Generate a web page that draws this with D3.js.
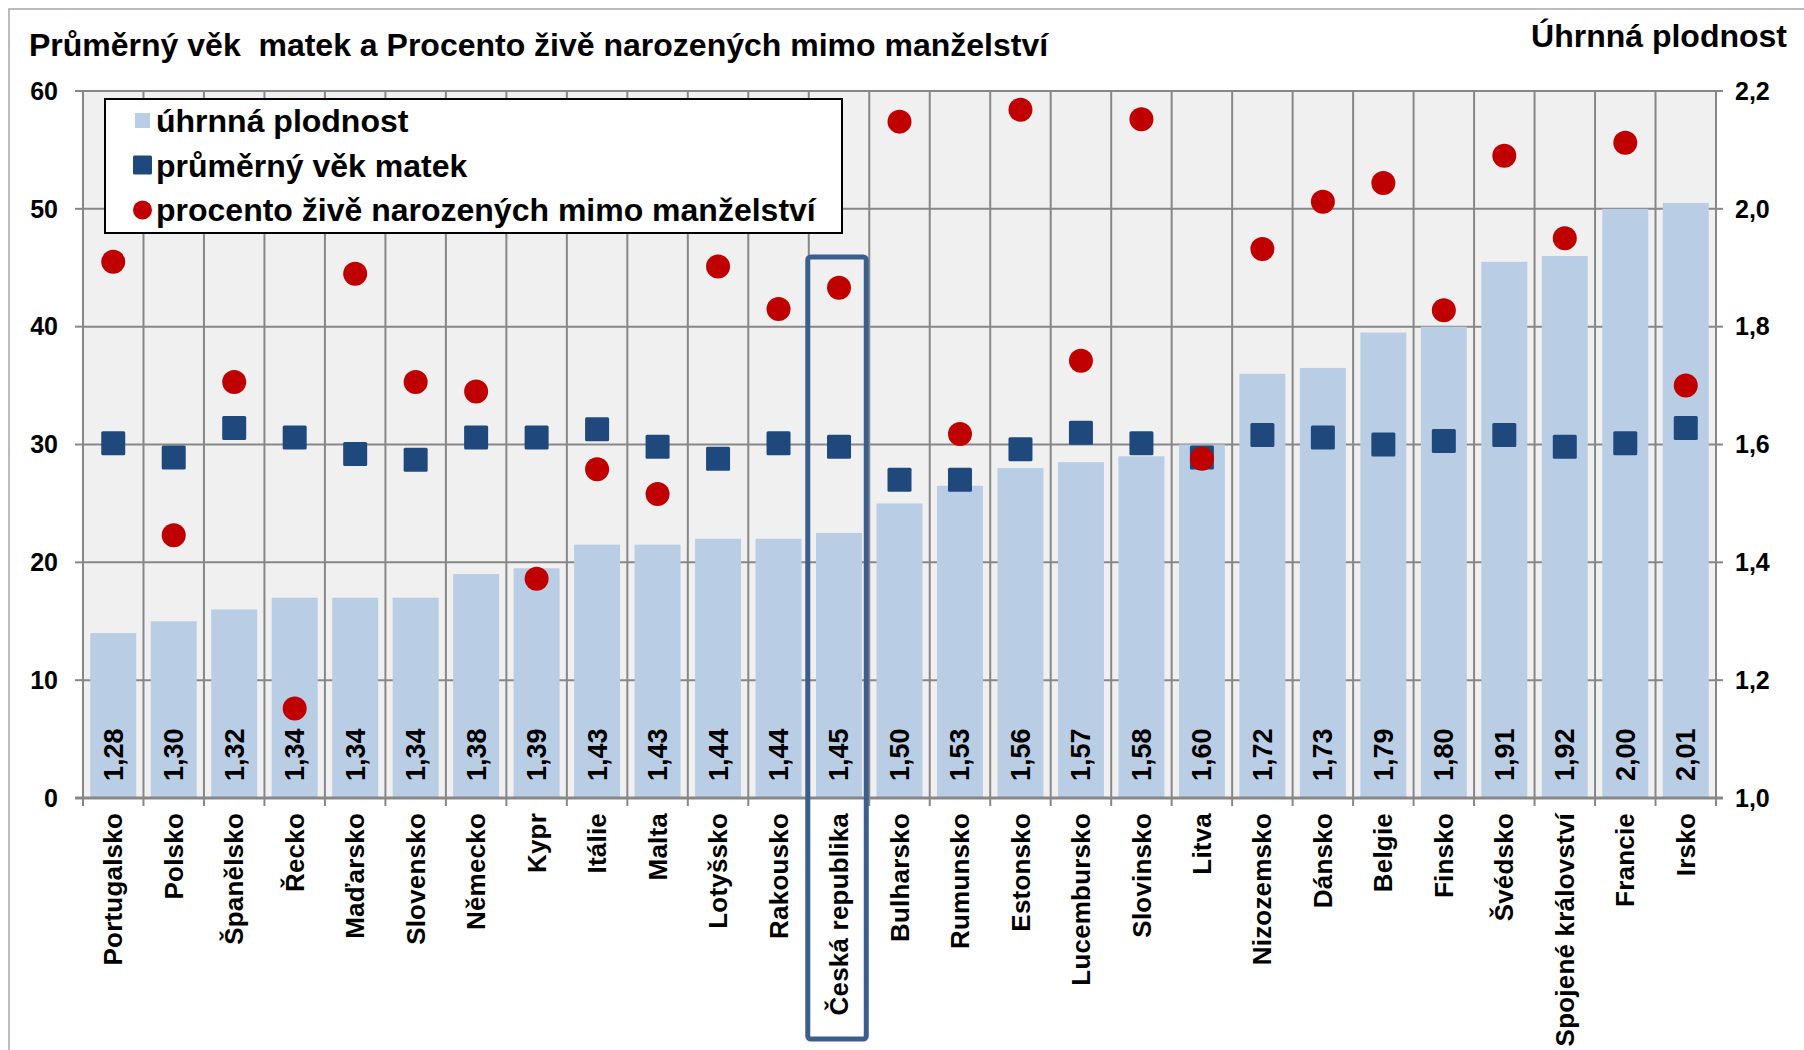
<!DOCTYPE html>
<html>
<head>
<meta charset="utf-8">
<script src="https://cdn.jsdelivr.net/npm/d3@7"></script>
<style>
  body { margin: 0; background: #fff; }
  svg text { font-family: "Liberation Sans", Arial, sans-serif; font-weight: bold; fill: #000; }
</style>
</head>
<body>
<svg id="chart"></svg>
<script>
const countries = ["Portugalsko", "Polsko", "Španělsko", "Řecko", "Maďarsko", "Slovensko",
  "Německo", "Kypr", "Itálie", "Malta", "Lotyšsko", "Rakousko", "Česká republika",
  "Bulharsko", "Rumunsko", "Estonsko", "Lucembursko", "Slovinsko", "Litva", "Nizozemsko",
  "Dánsko", "Belgie", "Finsko", "Švédsko", "Spojené království", "Francie", "Irsko"];

// úhrnná plodnost (right axis)
const fertility = [1.28, 1.30, 1.32, 1.34, 1.34, 1.34, 1.38, 1.39, 1.43, 1.43, 1.44, 1.44, 1.45,
  1.50, 1.53, 1.56, 1.57, 1.58, 1.60, 1.72, 1.73, 1.79, 1.80, 1.91, 1.92, 2.00, 2.01];

// průměrný věk matek (left axis)
const motherAge = [30.1, 28.9, 31.4, 30.6, 29.2, 28.7, 30.6, 30.6, 31.3, 29.8, 28.8, 30.1, 29.8,
  27.0, 27.0, 29.6, 31.0, 30.1, 28.9, 30.8, 30.6, 30.0, 30.3, 30.8, 29.8, 30.1, 31.4];

// procento živě narozených mimo manželství (left axis)
const outsideMarriage = [45.5, 22.3, 35.3, 7.6, 44.5, 35.3, 34.5, 18.6, 27.9, 25.8, 45.1, 41.5, 43.3,
  57.4, 30.9, 58.4, 37.1, 57.6, 28.8, 46.6, 50.6, 52.2, 41.4, 54.5, 47.5, 55.6, 35.0];

const leftTicks = [0, 10, 20, 30, 40, 50, 60];
const rightTicks = [1.0, 1.2, 1.4, 1.6, 1.8, 2.0, 2.2];
const highlight = "Česká republika";

const legendItems = [
  { label: "úhrnná plodnost", type: "bar" },
  { label: "průměrný věk matek", type: "square" },
  { label: "procento živě narozených mimo manželství", type: "circle" }
];

const dimensions = {
  width: 1804,
  height: 1050,
  margin: { top: 91, right: 88, bottom: 252, left: 83 }
};
dimensions.boundedWidth = dimensions.width - dimensions.margin.left - dimensions.margin.right;
dimensions.boundedHeight = dimensions.height - dimensions.margin.top - dimensions.margin.bottom;

const colors = {
  bar: "#b9cde5",
  square: "#1f497d",
  circle: "#c00000",
  grid: "#878787",
  plotBg: "#f0f0f0",
  box: "#3b5e8c"
};

const wrapper = d3.select("#chart")
  .attr("width", dimensions.width)
  .attr("height", dimensions.height);

// outer chart frame (only top/left edge are inside the picture)
wrapper.append("rect")
  .attr("x", 9).attr("y", 9)
  .attr("width", dimensions.width).attr("height", dimensions.height)
  .attr("fill", "none").attr("stroke", "#a6a6a6").attr("stroke-width", 1.5);

const bounds = wrapper.append("g")
  .attr("transform", `translate(${dimensions.margin.left},${dimensions.margin.top})`);

// scales
const xScale = d3.scaleBand()
  .domain(countries)
  .range([0, dimensions.boundedWidth])
  .paddingInner(0.24)
  .paddingOuter(0.12);
const step = xScale.step();
const bandStart = d => xScale(d) - step * 0.12;
const center = d => xScale(d) + xScale.bandwidth() / 2;

const yLeft = d3.scaleLinear().domain([0, 60]).range([dimensions.boundedHeight, 0]);
const yRight = d3.scaleLinear().domain([1.0, 2.2]).range([dimensions.boundedHeight, 0]);

// plot background
bounds.append("rect")
  .attr("width", dimensions.boundedWidth)
  .attr("height", dimensions.boundedHeight)
  .attr("fill", colors.plotBg);

// gridlines
bounds.append("g").selectAll("line")
  .data(leftTicks.slice(1))
  .join("line")
  .attr("x1", 0).attr("x2", dimensions.boundedWidth)
  .attr("y1", d => yLeft(d)).attr("y2", d => yLeft(d))
  .attr("stroke", colors.grid).attr("stroke-width", 2);

const boundaries = countries.map(bandStart).concat([dimensions.boundedWidth]);
bounds.append("g").selectAll("line")
  .data(boundaries)
  .join("line")
  .attr("x1", d => d).attr("x2", d => d)
  .attr("y1", 0).attr("y2", dimensions.boundedHeight + 8)
  .attr("stroke", colors.grid).attr("stroke-width", 2);

// bars
bounds.append("g").selectAll("rect")
  .data(countries)
  .join("rect")
  .attr("x", d => xScale(d))
  .attr("width", xScale.bandwidth())
  .attr("y", (d, i) => yRight(fertility[i]))
  .attr("height", (d, i) => dimensions.boundedHeight - yRight(fertility[i]))
  .attr("fill", colors.bar);

// bar value labels
const fmt = v => d3.format(".2f")(v).replace(".", ",");
bounds.append("g").selectAll("text")
  .data(countries)
  .join("text")
  .attr("transform", d => `translate(${center(d)},${dimensions.boundedHeight - 17}) rotate(-90)`)
  .attr("dy", "0.35em")
  .attr("font-size", 27)
  .text((d, i) => fmt(fertility[i]));

// axes lines + ticks
const axisG = bounds.append("g");
axisG.append("line")
  .attr("x1", 0).attr("x2", 0).attr("y1", 0).attr("y2", dimensions.boundedHeight)
  .attr("stroke", colors.grid).attr("stroke-width", 2);
axisG.append("line")
  .attr("x1", dimensions.boundedWidth).attr("x2", dimensions.boundedWidth)
  .attr("y1", 0).attr("y2", dimensions.boundedHeight)
  .attr("stroke", colors.grid).attr("stroke-width", 2);
axisG.append("line")
  .attr("x1", -8).attr("x2", dimensions.boundedWidth + 7)
  .attr("y1", dimensions.boundedHeight).attr("y2", dimensions.boundedHeight)
  .attr("stroke", colors.grid).attr("stroke-width", 3);

axisG.selectAll(".ltick")
  .data(leftTicks)
  .join("line")
  .attr("class", "ltick")
  .attr("x1", -8).attr("x2", 0)
  .attr("y1", d => yLeft(d)).attr("y2", d => yLeft(d))
  .attr("stroke", colors.grid).attr("stroke-width", 2);
axisG.selectAll(".rtick")
  .data(rightTicks)
  .join("line")
  .attr("class", "rtick")
  .attr("x1", dimensions.boundedWidth).attr("x2", dimensions.boundedWidth + 7)
  .attr("y1", d => yRight(d)).attr("y2", d => yRight(d))
  .attr("stroke", colors.grid).attr("stroke-width", 2);

axisG.selectAll(".llabel")
  .data(leftTicks)
  .join("text")
  .attr("class", "llabel")
  .attr("x", -25).attr("y", d => yLeft(d))
  .attr("dy", "0.35em")
  .attr("text-anchor", "end")
  .attr("font-size", 25)
  .text(d => d);
axisG.selectAll(".rlabel")
  .data(rightTicks)
  .join("text")
  .attr("class", "rlabel")
  .attr("x", dimensions.boundedWidth + 19).attr("y", d => yRight(d))
  .attr("dy", "0.35em")
  .attr("font-size", 25)
  .text(d => d3.format(".1f")(d).replace(".", ","));

// category labels
axisG.selectAll(".xlabel")
  .data(countries)
  .join("text")
  .attr("class", "xlabel")
  .attr("transform", d => `translate(${center(d)},${dimensions.boundedHeight + 15}) rotate(-90)`)
  .attr("dy", "0.35em")
  .attr("text-anchor", "end")
  .attr("font-size", 26)
  .attr("letter-spacing", 0.2)
  .text(d => d);

// markers
bounds.append("g").selectAll("rect")
  .data(countries)
  .join("rect")
  .attr("x", d => center(d) - 12)
  .attr("y", (d, i) => yLeft(motherAge[i]) - 12)
  .attr("width", 24).attr("height", 24)
  .attr("rx", 1.5)
  .attr("fill", colors.square);

bounds.append("g").selectAll("circle")
  .data(countries)
  .join("circle")
  .attr("cx", d => center(d))
  .attr("cy", (d, i) => yLeft(outsideMarriage[i]))
  .attr("r", 12)
  .attr("fill", colors.circle);

// highlight box for Czech Republic
bounds.append("rect")
  .attr("x", bandStart(highlight) - 1)
  .attr("y", 166)
  .attr("width", step - 2)
  .attr("height", 782)
  .attr("rx", 3)
  .attr("fill", "none")
  .attr("stroke", colors.box)
  .attr("stroke-width", 5);

// legend
const legend = wrapper.append("g").attr("transform", "translate(105,99)");
legend.append("rect")
  .attr("width", 737).attr("height", 134)
  .attr("fill", "#fff").attr("stroke", "#000").attr("stroke-width", 2);
const legendRows = legend.selectAll("g")
  .data(legendItems)
  .join("g")
  .attr("transform", (d, i) => `translate(0,${22 + i * 44.5})`);
legendRows.filter(d => d.type === "bar").append("rect")
  .attr("x", 30).attr("y", -8).attr("width", 15).attr("height", 15)
  .attr("fill", colors.bar);
legendRows.filter(d => d.type === "square").append("rect")
  .attr("x", 28).attr("y", -10).attr("width", 19).attr("height", 19).attr("rx", 1.5)
  .attr("fill", colors.square);
legendRows.filter(d => d.type === "circle").append("circle")
  .attr("cx", 37.5).attr("cy", 0).attr("r", 9.5)
  .attr("fill", colors.circle);
legendRows.append("text")
  .attr("x", 51).attr("y", 0)
  .attr("dy", "0.35em")
  .attr("font-size", 32)
  .text(d => d.label);

// titles
wrapper.append("text")
  .attr("x", 29).attr("y", 56)
  .attr("font-size", 32)
  .style("white-space", "pre")
  .text("Průměrný věk  matek a Procento živě narozených mimo manželství");
wrapper.append("text")
  .attr("x", 1787).attr("y", 47)
  .attr("text-anchor", "end")
  .attr("font-size", 32)
  .text("Úhrnná plodnost");
</script>
</body>
</html>
